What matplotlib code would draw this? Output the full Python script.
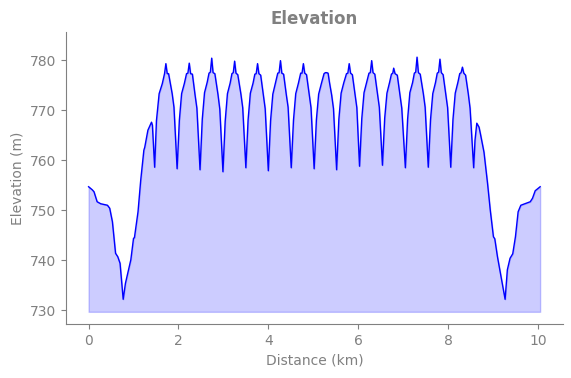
import matplotlib
matplotlib.use("Agg")
import matplotlib.pyplot as plt

# distance along the route (km) and elevation (m)
distance_km = [
    0.00, 0.08, 0.12, 0.19, 0.27, 0.42, 0.47, 0.53, 0.60, 0.65, 0.70, 0.77,
    0.82, 0.94, 1.00, 1.02, 1.10, 1.16, 1.23, 1.25, 1.32, 1.40, 1.42, 1.47,
    1.51, 1.57, 1.64, 1.69, 1.72, 1.75, 1.78, 1.86, 1.90, 1.97,
    2.02, 2.07, 2.13, 2.18, 2.21, 2.24, 2.27, 2.31, 2.37, 2.41, 2.48,
    2.53, 2.58, 2.64, 2.68, 2.71, 2.74, 2.77, 2.81, 2.88, 2.92, 2.99,
    3.04, 3.09, 3.15, 3.19, 3.22, 3.25, 3.28, 3.32, 3.39, 3.43, 3.50,
    3.55, 3.60, 3.66, 3.70, 3.73, 3.76, 3.79, 3.83, 3.89, 3.93, 4.00,
    4.05, 4.10, 4.16, 4.21, 4.24, 4.27, 4.30, 4.34, 4.40, 4.44, 4.51,
    4.56, 4.61, 4.67, 4.72, 4.75, 4.78, 4.81, 4.85, 4.91, 4.95, 5.02,
    5.07, 5.12, 5.18, 5.24, 5.27, 5.30, 5.33, 5.36, 5.41, 5.45, 5.52,
    5.57, 5.62, 5.68, 5.74, 5.77, 5.80, 5.83, 5.87, 5.93, 5.97, 6.03,
    6.08, 6.13, 6.19, 6.24, 6.27, 6.30, 6.33, 6.37, 6.43, 6.47, 6.54,
    6.59, 6.64, 6.70, 6.74, 6.77, 6.79, 6.82, 6.87, 6.93, 6.97, 7.05,
    7.10, 7.15, 7.21, 7.25, 7.28, 7.31, 7.34, 7.38, 7.45, 7.49, 7.56,
    7.61, 7.66, 7.72, 7.76, 7.79, 7.82, 7.85, 7.89, 7.95, 7.99, 8.06,
    8.11, 8.16, 8.22, 8.26, 8.29, 8.32, 8.35, 8.39, 8.45, 8.49, 8.57,
    8.60, 8.64, 8.69, 8.72, 8.77, 8.80, 8.88, 8.94, 9.01, 9.04, 9.10, 9.18,
    9.22, 9.27, 9.32, 9.38, 9.44, 9.50, 9.56, 9.62, 9.71, 9.83, 9.88, 9.94,
    10.05,
]
elevation_m = [
    754.7, 754.1, 753.7, 751.7, 751.3, 751.0, 750.4, 747.7, 741.4, 740.7, 739.4, 732.2,
    735.4, 740.1, 744.4, 744.5, 749.7, 756.0, 762.0, 762.6, 766.0, 767.6, 767.0, 758.6,
    767.9, 773.3, 775.3, 777.3, 779.3, 777.3, 777.3, 773.3, 770.6, 758.3,
    768.0, 773.3, 775.3, 777.3, 777.4, 779.4, 777.3, 777.2, 773.0, 770.4, 758.1,
    768.2, 773.5, 775.6, 777.4, 777.6, 780.4, 777.5, 777.3, 773.1, 770.2, 757.7,
    767.8, 773.3, 775.4, 777.3, 777.5, 779.8, 777.4, 777.1, 773.2, 770.5, 758.5,
    768.1, 773.4, 775.4, 777.2, 777.3, 779.3, 777.3, 777.0, 773.0, 770.3, 757.9,
    767.9, 773.2, 775.5, 777.4, 777.5, 779.9, 777.4, 777.2, 773.1, 770.6, 758.5,
    768.0, 773.3, 775.4, 777.4, 777.4, 779.3, 777.4, 777.1, 773.2, 770.5, 758.3,
    768.1, 773.2, 775.3, 777.3, 777.5, 777.5, 777.4, 775.6, 773.0, 770.3, 758.1,
    768.2, 773.4, 775.5, 777.3, 777.4, 779.3, 777.4, 777.1, 773.1, 770.5, 758.8,
    768.3, 773.5, 775.6, 777.4, 777.5, 779.9, 777.5, 777.2, 773.2, 770.6, 759.0,
    768.4, 773.4, 775.6, 777.2, 777.4, 778.4, 777.3, 777.0, 773.0, 770.4, 758.5,
    768.2, 773.5, 775.5, 777.4, 777.6, 780.6, 777.5, 777.2, 773.3, 770.6, 758.6,
    768.1, 773.3, 775.5, 777.4, 777.6, 780.2, 777.5, 777.1, 773.2, 770.5, 758.6,
    768.2, 773.4, 775.6, 777.3, 777.5, 778.6, 777.4, 777.0, 773.3, 770.4, 758.5,
    764.0, 767.4, 766.6, 765.3, 763.0, 761.6, 755.3, 750.0, 744.7, 744.3, 740.7, 736.7,
    734.7, 732.2, 738.1, 740.4, 741.3, 744.7, 749.7, 751.0, 751.3, 751.7, 752.4, 753.9,
    754.7,
]

grey = "#808080"

fig = plt.figure(figsize=(5.71, 3.78), dpi=100)
ax = fig.add_axes([0.1156, 0.142, 0.8699, 0.773])

low = min(elevation_m)
high = max(elevation_m)
ax.fill_between(distance_km, elevation_m, low - 2.5, color="blue", alpha=0.2)
ax.plot(distance_km, elevation_m, color="blue", linewidth=1)

ax.set_ylim(low - 5, high + 5)
ax.set_title("Elevation", fontsize=12, fontweight="bold", color=grey)
ax.set_xlabel("Distance (km)", fontsize=10, color=grey)
ax.set_ylabel("Elevation (m)", fontsize=10, color=grey)

for side in ["top", "right"]:
    ax.spines[side].set_visible(False)
for side in ["left", "bottom"]:
    ax.spines[side].set_color(grey)
ax.tick_params(colors=grey, labelsize=10)

fig.savefig("out.png", dpi=100)
